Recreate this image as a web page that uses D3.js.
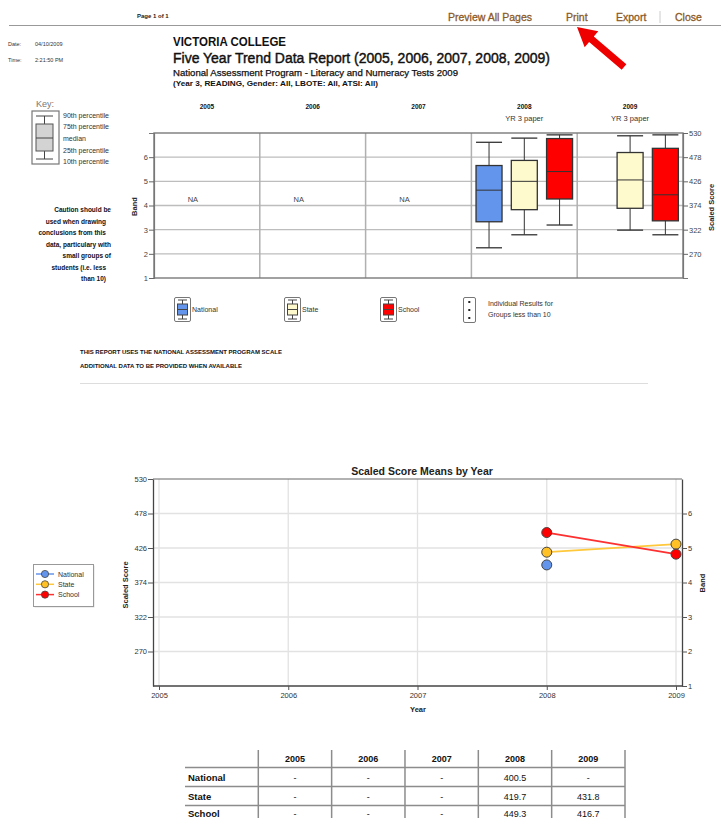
<!DOCTYPE html>
<html>
<head>
<meta charset="utf-8">
<script src="https://cdn.jsdelivr.net/npm/d3@7"></script>
<style>
  body { margin: 0; background: #fff; }
  svg { display: block; font-family: Arial, "Liberation Sans", sans-serif; }
</style>
</head>
<body>
<svg id="page" width="721" height="818"></svg>
<script>
// ---- data ----
const years = [2005, 2006, 2007, 2008, 2009];
const groups = ["National", "State", "School"];
const groupColors = ["#6495ed", "#fffacd", "#ff0000"];
const lineColors = ["#6495ed", "#ffc125", "#ff0000"];
const lineStroke = ["#6495ed", "#ffc83a", "#ff3030"];

// box plot stats (scaled score): [10th, 25th, median, 75th, 90th], null = no data
const nationalBox = [null, null, null, [283, 339, 407, 460, 510], null];
const stateBox = [null, null, null, [311, 365, 426, 471, 519], [321, 368, 429, 488, 524]];
const schoolBox = [null, null, null, [332, 388, 447, 518, 526], [311, 341, 397, 497, 526]];
const boxData = [nationalBox, stateBox, schoolBox];

// mean scaled scores by year
const nationalMean = [null, null, null, 400.5, null];
const stateMean = [null, null, null, 419.7, 431.8];
const schoolMean = [null, null, null, 449.3, 416.7];
const means = [nationalMean, stateMean, schoolMean];

const scoreTicks = [530, 478, 426, 374, 322, 270];
const bandTicks = [1, 2, 3, 4, 5, 6];
const paperLabel = ["", "", "", "YR 3 paper", "YR 3 paper"];

const cautionLines = ["Caution should be", "used when drawing", "conclusions from this",
  "data, particulary with", "small groups of", "students (i.e. less", "than 10)"];
const keyLabels = ["90th percentile", "75th percentile", "median", "25th percentile", "10th percentile"];

const svg = d3.select("#page");
svg.append("rect").attr("width", 721).attr("height", 818).attr("fill", "#fff");

// ---- page header ----
svg.append("text").attr("x", 137).attr("y", 18).attr("font-size", 6).attr("font-weight", "bold")
  .attr("fill", "#222").text("Page 1 of 1");

const links = [["Preview All Pages", 448], ["Print", 566], ["Export", 616], ["Close", 675]];
links.forEach(l => {
  svg.append("text").attr("x", l[1]).attr("y", 21).attr("font-size", 10.5)
    .attr("fill", "#8c5a28").attr("stroke", "#8c5a28").attr("stroke-width", 0.3).text(l[0]);
});
svg.append("line").attr("x1", 660).attr("x2", 660).attr("y1", 11).attr("y2", 23)
  .attr("stroke", "#ccc").attr("stroke-width", 1);
svg.append("line").attr("x1", 9).attr("x2", 721).attr("y1", 25.5).attr("y2", 25.5)
  .attr("stroke", "#999").attr("stroke-width", 1);

// red arrow pointing to Print
(function drawArrow() {
  const tip = [577, 27], end = [624, 67];
  const dx = end[0] - tip[0], dy = end[1] - tip[1], len = Math.hypot(dx, dy);
  const u = [dx / len, dy / len], p = [-u[1], u[0]];
  const headLen = 19, headW = 10.5, shaftW = 3.6;
  const b = [tip[0] + u[0] * headLen, tip[1] + u[1] * headLen];
  const pts = [
    tip,
    [b[0] + p[0] * headW, b[1] + p[1] * headW],
    [b[0] + p[0] * shaftW, b[1] + p[1] * shaftW],
    [end[0] + p[0] * shaftW, end[1] + p[1] * shaftW],
    [end[0] - p[0] * shaftW, end[1] - p[1] * shaftW],
    [b[0] - p[0] * shaftW, b[1] - p[1] * shaftW],
    [b[0] - p[0] * headW, b[1] - p[1] * headW]
  ];
  svg.append("polygon").attr("points", pts.map(d => d.join(",")).join(" ")).attr("fill", "#ee0000");
})();

svg.append("text").attr("x", 8).attr("y", 46).attr("font-size", 5.5).attr("fill", "#333").text("Date:");
svg.append("text").attr("x", 35).attr("y", 46).attr("font-size", 5.5).attr("fill", "#333").text("04/10/2009");
svg.append("text").attr("x", 8).attr("y", 62).attr("font-size", 5.5).attr("fill", "#333").text("Time:");
svg.append("text").attr("x", 35).attr("y", 62).attr("font-size", 5.5).attr("fill", "#333").text("2:21:50 PM");

svg.append("text").attr("x", 173).attr("y", 46).attr("font-size", 12).attr("font-weight", "bold")
  .attr("fill", "#111").attr("textLength", 113).attr("lengthAdjust", "spacingAndGlyphs").text("VICTORIA COLLEGE");
svg.append("text").attr("x", 173).attr("y", 63).attr("font-size", 15.5).attr("fill", "#111")
  .attr("stroke", "#111").attr("stroke-width", 0.45)
  .attr("textLength", 377).attr("lengthAdjust", "spacingAndGlyphs")
  .text("Five Year Trend Data Report (2005, 2006, 2007, 2008, 2009)");
svg.append("text").attr("x", 173).attr("y", 76).attr("font-size", 9).attr("fill", "#111")
  .attr("stroke", "#111").attr("stroke-width", 0.25)
  .attr("textLength", 285).attr("lengthAdjust", "spacingAndGlyphs")
  .text("National Assessment Program - Literacy and Numeracy Tests 2009");
svg.append("text").attr("x", 173).attr("y", 86).attr("font-size", 7).attr("font-weight", "bold")
  .attr("fill", "#111").attr("textLength", 205).attr("lengthAdjust", "spacingAndGlyphs")
  .text("(Year 3, READING, Gender: All, LBOTE: All, ATSI: All)");

// ---- key ----
svg.append("text").attr("x", 36).attr("y", 107).attr("font-size", 9).attr("fill", "#777").text("Key:");
svg.append("rect").attr("x", 32).attr("y", 111).attr("width", 27).attr("height", 53)
  .attr("fill", "#fff").attr("stroke", "#777").attr("stroke-width", 1.2);
svg.append("line").attr("x1", 44.5).attr("x2", 44.5).attr("y1", 116).attr("y2", 159).attr("stroke", "#444");
[116, 159].forEach(y => svg.append("line").attr("x1", 36).attr("x2", 53).attr("y1", y).attr("y2", y).attr("stroke", "#444"));
svg.append("rect").attr("x", 36).attr("y", 124).attr("width", 17).attr("height", 27)
  .attr("fill", "#d3d3d3").attr("stroke", "#555");
svg.append("line").attr("x1", 36).attr("x2", 53).attr("y1", 138).attr("y2", 138).attr("stroke", "#444");
keyLabels.forEach((t, i) => {
  svg.append("text").attr("x", 63).attr("y", [117.5, 129, 141, 153, 164][i])
    .attr("font-size", 7).attr("fill", "#333").text(t);
});

const cautionEnd = [111, 106, 106, 111, 111, 106, 106];
cautionLines.forEach((t, i) => {
  svg.append("text").attr("x", cautionEnd[i]).attr("y", 212 + i * 11.5)
    .attr("text-anchor", "end").attr("font-size", 6.5).attr("font-weight", "bold")
    .attr("fill", "#101020").text(t);
});

// ---- box plot chart ----
const bp = { left: 154, right: 683, top: 133, bottom: 278 };
const bx = d3.scaleBand().domain(years).range([bp.left, bp.right]);
const slot = d3.scaleBand().domain(groups).range([0, bx.bandwidth()]);
const bandY = d3.scaleLinear().domain([1, 7]).range([bp.bottom, bp.top]);
const scoreY = d3.scaleLinear().domain([218, 530]).range([bp.bottom, bp.top]);

const bpg = svg.append("g");
// horizontal grid
bandTicks.slice(1).forEach(b => {
  bpg.append("line").attr("x1", bp.left).attr("x2", bp.right).attr("y1", bandY(b)).attr("y2", bandY(b))
    .attr("stroke", "#bdbdbd").attr("stroke-width", 1.3);
});
// column dividers
years.slice(1).forEach(yr => {
  bpg.append("line").attr("x1", bx(yr)).attr("x2", bx(yr)).attr("y1", bp.top).attr("y2", bp.bottom)
    .attr("stroke", "#b0b0b0").attr("stroke-width", 1.5);
});
// frame
bpg.append("rect").attr("x", bp.left).attr("y", bp.top).attr("width", bp.right - bp.left)
  .attr("height", bp.bottom - bp.top).attr("fill", "none").attr("stroke", "#7a7a7a").attr("stroke-width", 1.4);

const leftAxis = bpg.append("g").attr("transform", `translate(${bp.left},0)`)
  .call(d3.axisLeft(bandY).tickValues(bandTicks).tickSize(5).tickFormat(d3.format("d")));
const rightAxis = bpg.append("g").attr("transform", `translate(${bp.right},0)`)
  .call(d3.axisRight(scoreY).tickValues(scoreTicks).tickSize(5).tickFormat(d3.format("d")));
[leftAxis, rightAxis].forEach(a => {
  a.select(".domain").attr("stroke", "#777").attr("stroke-width", 1.2);
  a.selectAll(".tick line").attr("stroke", "#666");
  a.selectAll(".tick text").attr("font-size", 7.5).attr("fill", "#444").attr("font-family", "Arial, Liberation Sans, sans-serif");
});
leftAxis.selectAll(".tick text").attr("x", -6);
rightAxis.selectAll(".tick text").attr("x", 6);

bpg.append("text").attr("transform", `translate(137,${(bp.top + bp.bottom) / 2 + 1}) rotate(-90)`)
  .attr("text-anchor", "middle").attr("font-size", 7.5).attr("font-weight", "bold").attr("fill", "#222").text("Band");
bpg.append("text").attr("transform", `translate(714,${(bp.top + bp.bottom) / 2 + 2}) rotate(-90)`)
  .attr("text-anchor", "middle").attr("font-size", 7.5).attr("font-weight", "bold").attr("fill", "#222").text("Scaled Score");

years.forEach((yr, i) => {
  const cx = bx(yr) + bx.bandwidth() / 2;
  bpg.append("text").attr("x", cx).attr("y", 109).attr("text-anchor", "middle")
    .attr("font-size", 6.5).attr("font-weight", "bold").attr("fill", "#111").text(yr);
  if (paperLabel[i]) {
    bpg.append("text").attr("x", cx).attr("y", 121).attr("text-anchor", "middle")
      .attr("font-size", 7.5).attr("fill", "#333").text(paperLabel[i]);
  }
  const any = boxData.some(s => s[i]);
  if (!any) {
    bpg.append("text").attr("x", cx - 14).attr("y", bandY(4) - 3.5).attr("text-anchor", "middle")
      .attr("font-size", 7.5).attr("fill", "#444").text("NA");
  }
});

const boxW = 26;
groups.forEach((g, gi) => {
  boxData[gi].forEach((s, i) => {
    if (!s) return;
    const cx = bx(years[i]) + slot(g) + slot.bandwidth() / 2;
    const x0 = cx - boxW / 2;
    const gg = bpg.append("g").attr("stroke", "#333").attr("stroke-width", 1);
    gg.append("line").attr("x1", cx).attr("x2", cx).attr("y1", scoreY(s[4])).attr("y2", scoreY(s[0]));
    [s[0], s[4]].forEach(v => gg.append("line").attr("x1", x0).attr("x2", x0 + boxW)
      .attr("y1", scoreY(v)).attr("y2", scoreY(v)).attr("stroke-width", 1.3));
    gg.append("rect").attr("x", x0).attr("y", scoreY(s[3])).attr("width", boxW)
      .attr("height", scoreY(s[1]) - scoreY(s[3])).attr("fill", groupColors[gi]).attr("stroke-width", 1.3);
    gg.append("line").attr("x1", x0).attr("x2", x0 + boxW).attr("y1", scoreY(s[2])).attr("y2", scoreY(s[2]));
  });
});

// legend under box plot
const legX = [174, 284, 380];
groups.forEach((g, gi) => {
  const lg = svg.append("g").attr("transform", `translate(${legX[gi]},297)`);
  lg.append("rect").attr("x", 0.5).attr("y", 0.5).attr("width", 16).attr("height", 24).attr("rx", 1.5)
    .attr("fill", "#fff").attr("stroke", "#777");
  lg.append("line").attr("x1", 8.5).attr("x2", 8.5).attr("y1", 3).attr("y2", 22).attr("stroke", "#444");
  [3, 22].forEach(y => lg.append("line").attr("x1", 4).attr("x2", 13).attr("y1", y).attr("y2", y).attr("stroke", "#444"));
  lg.append("rect").attr("x", 3.5).attr("y", 7).attr("width", 10).attr("height", 11)
    .attr("fill", groupColors[gi]).attr("stroke", "#444");
  lg.append("line").attr("x1", 3.5).attr("x2", 13.5).attr("y1", 12.5).attr("y2", 12.5).attr("stroke", "#444");
  lg.append("text").attr("x", 18).attr("y", 15).attr("font-size", 7).attr("fill", "#333").text(g);
});
const ind = svg.append("g").attr("transform", "translate(463,297)");
ind.append("rect").attr("x", 0.5).attr("y", 0.5).attr("width", 12).attr("height", 25).attr("rx", 1.5)
  .attr("fill", "#fff").attr("stroke", "#777");
[5, 13, 21].forEach(y => ind.append("rect").attr("x", 5.3).attr("y", y - 1).attr("width", 2).attr("height", 2).attr("fill", "#222"));
ind.append("text").attr("x", 25).attr("y", 9).attr("font-size", 7).attr("fill", "#333").text("Individual Results for");
ind.append("text").attr("x", 25).attr("y", 20).attr("font-size", 7).attr("fill", "#333").text("Groups less than 10");

svg.append("text").attr("x", 80).attr("y", 354).attr("font-size", 6).attr("font-weight", "bold").attr("fill", "#101020")
  .text("THIS REPORT USES THE NATIONAL ASSESSMENT PROGRAM SCALE");
svg.append("text").attr("x", 80).attr("y", 368).attr("font-size", 6).attr("font-weight", "bold").attr("fill", "#101020")
  .text("ADDITIONAL DATA TO BE PROVIDED WHEN AVAILABLE");
svg.append("line").attr("x1", 80).attr("x2", 648).attr("y1", 383.5).attr("y2", 383.5).attr("stroke", "#ddd");

// ---- line chart ----
const lc = { left: 153, right: 682, top: 479, bottom: 686 };
const lx = d3.scaleLinear().domain([2005, 2009]).range([159, 676]);
const ly = d3.scaleLinear().domain([218, 530]).range([lc.bottom, lc.top]);
const lband = d3.scaleLinear().domain([1, 7]).range([lc.bottom, lc.top]);

const lcg = svg.append("g");
lcg.append("text").attr("x", 422).attr("y", 475).attr("text-anchor", "middle").attr("font-size", 10.5)
  .attr("font-weight", "bold").attr("fill", "#222").text("Scaled Score Means by Year");

scoreTicks.slice(1).forEach(v => {
  lcg.append("line").attr("x1", lc.left).attr("x2", lc.right).attr("y1", ly(v)).attr("y2", ly(v))
    .attr("stroke", "#e2e2e2").attr("stroke-width", 1.3);
});
years.forEach(yr => {
  lcg.append("line").attr("x1", lx(yr)).attr("x2", lx(yr)).attr("y1", lc.top).attr("y2", lc.bottom)
    .attr("stroke", "#e2e2e2").attr("stroke-width", 1.3);
});
lcg.append("line").attr("x1", lc.left).attr("x2", lc.right).attr("y1", lc.top).attr("y2", lc.top)
  .attr("stroke", "#666").attr("stroke-width", 1.2);

const lLeft = lcg.append("g").attr("transform", `translate(${lc.left},0)`)
  .call(d3.axisLeft(ly).tickValues(scoreTicks).tickSize(5).tickSizeOuter(0).tickFormat(d3.format("d")));
const lRight = lcg.append("g").attr("transform", `translate(${lc.right},0)`)
  .call(d3.axisRight(lband).tickValues(bandTicks).tickSize(5).tickSizeOuter(0).tickFormat(d3.format("d")));
const lBottom = lcg.append("g").attr("transform", `translate(0,${lc.bottom})`)
  .call(d3.axisBottom(lx).tickValues(years).tickSize(4).tickSizeOuter(0).tickFormat(d3.format("d")));
lBottom.select(".domain").attr("d", `M${lc.left},0H${lc.right}`);
[lLeft, lRight, lBottom].forEach(a => {
  a.select(".domain").attr("stroke", "#444").attr("stroke-width", 1.3);
  a.selectAll(".tick line").attr("stroke", "#555");
  a.selectAll(".tick text").attr("font-size", 7.5).attr("fill", "#333").attr("font-family", "Arial, Liberation Sans, sans-serif");
});
lLeft.selectAll(".tick text").attr("x", -6);
lRight.selectAll(".tick text").attr("x", 6);
lBottom.selectAll(".tick text").attr("y", 7);

lcg.append("text").attr("x", 418).attr("y", 712).attr("text-anchor", "middle").attr("font-size", 7.5)
  .attr("font-weight", "bold").attr("fill", "#222").text("Year");
lcg.append("text").attr("transform", `translate(128,585) rotate(-90)`).attr("text-anchor", "middle")
  .attr("font-size", 7.5).attr("font-weight", "bold").attr("fill", "#222").text("Scaled Score");
lcg.append("text").attr("transform", `translate(705,583) rotate(-90)`).attr("text-anchor", "middle")
  .attr("font-size", 7.5).attr("font-weight", "bold").attr("fill", "#222").text("Band");

const line = d3.line().defined(d => d[1] != null).x(d => lx(d[0])).y(d => ly(d[1]));
means.forEach((m, gi) => {
  const pts = years.map((yr, i) => [yr, m[i]]);
  lcg.append("path").datum(pts).attr("d", line).attr("fill", "none")
    .attr("stroke", lineStroke[gi]).attr("stroke-width", 1.8);
});
means.forEach((m, gi) => {
  years.forEach((yr, i) => {
    if (m[i] == null) return;
    lcg.append("circle").attr("cx", lx(yr)).attr("cy", ly(m[i])).attr("r", 5)
      .attr("fill", lineColors[gi]).attr("stroke", "#444").attr("stroke-width", 1);
  });
});

// line chart legend
const ll = svg.append("g").attr("transform", "translate(33,564)");
ll.append("rect").attr("x", 1.5).attr("y", 1.5).attr("width", 60).attr("height", 42).attr("fill", "#ddd");
ll.append("rect").attr("x", 0.5).attr("y", 0.5).attr("width", 60).attr("height", 42)
  .attr("fill", "#fff").attr("stroke", "#999");
groups.forEach((g, gi) => {
  const y = 10 + gi * 10.3;
  ll.append("line").attr("x1", 3).attr("x2", 21).attr("y1", y).attr("y2", y).attr("stroke", lineStroke[gi]).attr("stroke-width", 1.5);
  ll.append("circle").attr("cx", 12).attr("cy", y).attr("r", 3.6).attr("fill", lineColors[gi]).attr("stroke", "#444").attr("stroke-width", 0.8);
  ll.append("text").attr("x", 25).attr("y", y + 2.6).attr("font-size", 7).attr("fill", "#333").text(g);
});

// ---- data table ----
const tx = d3.scaleBand().domain(years).range([258.3, 625]);
const rowLines = [767.5, 786.5, 805.5];
const tg = svg.append("g");
rowLines.forEach(y => tg.append("line").attr("x1", 185).attr("x2", 625).attr("y1", y).attr("y2", y)
  .attr("stroke", "#8c8c8c").attr("stroke-width", 1.5));
years.concat(["end"]).forEach((yr, i) => {
  const x = i < years.length ? tx(yr) : 625;
  tg.append("line").attr("x1", x).attr("x2", x).attr("y1", 750).attr("y2", 818)
    .attr("stroke", "#8c8c8c").attr("stroke-width", 1.5);
});
years.forEach(yr => {
  tg.append("text").attr("x", tx(yr) + tx.bandwidth() / 2).attr("y", 762).attr("text-anchor", "middle")
    .attr("font-size", 9).attr("font-weight", "bold").attr("fill", "#111").text(yr);
});
const fmt = d3.format(".1f");
groups.forEach((g, gi) => {
  const y = [781, 800, 816.5][gi];
  tg.append("text").attr("x", 188).attr("y", y).attr("font-size", 9.5).attr("font-weight", "bold")
    .attr("fill", "#111").text(g);
  years.forEach((yr, i) => {
    const v = means[gi][i];
    tg.append("text").attr("x", tx(yr) + tx.bandwidth() / 2).attr("y", y).attr("text-anchor", "middle")
      .attr("font-size", 9).attr("fill", "#111").text(v == null ? "-" : fmt(v));
  });
});
</script>
</body>
</html>
